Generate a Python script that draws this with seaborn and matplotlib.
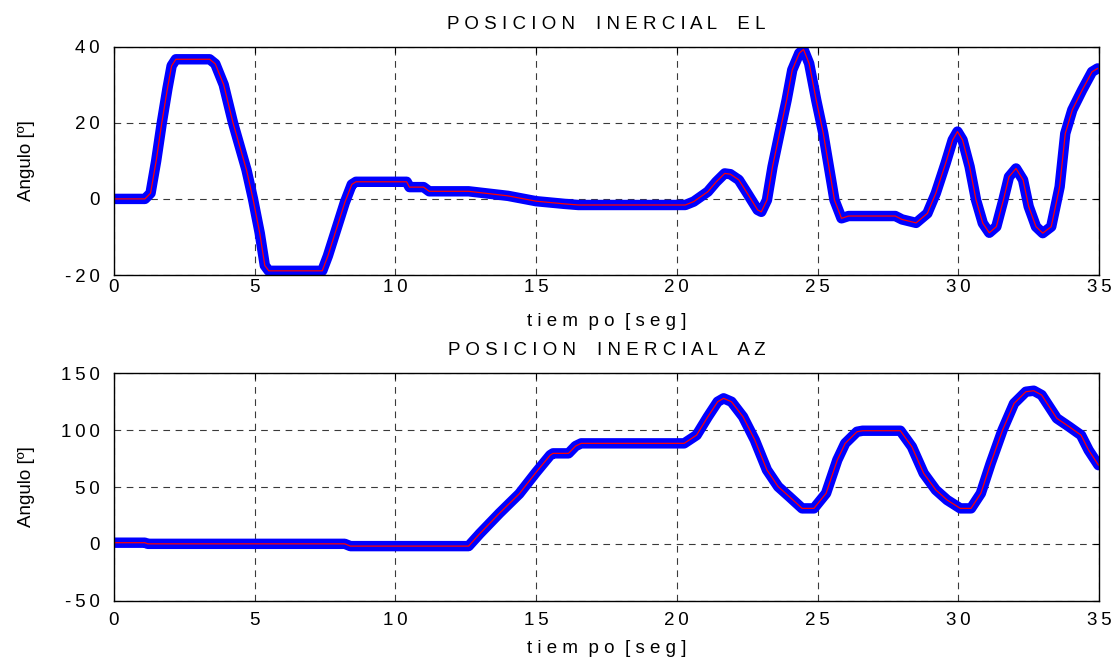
import numpy as np
import pandas as pd
import matplotlib
matplotlib.use("Agg")
import matplotlib.pyplot as plt
import seaborn as sns

# --- Elevation (EL) inertial position, degrees vs seconds ---
t_el = [0.0, 1.1, 1.3, 1.5, 1.7, 1.9, 2.05, 2.2, 3.4, 3.6, 3.9, 4.23, 4.71,
        4.94, 5.18, 5.36, 5.5, 7.4, 7.6, 7.9, 8.2, 8.45, 8.6, 10.4, 10.5,
        11.0, 11.2, 12.6, 14.0, 15.0, 16.0, 16.5, 20.3, 20.6, 21.1, 21.4,
        21.7, 21.9, 22.2, 22.5, 22.87, 23.0, 23.2, 23.4, 23.65, 23.9, 24.1,
        24.35, 24.5, 24.7, 24.95, 25.2, 25.4, 25.6, 25.85, 26.1, 27.76, 28.0,
        28.5, 28.9, 29.2, 29.55, 29.8, 29.97, 30.15, 30.4, 30.63, 30.87, 31.1,
        31.35, 31.6, 31.8, 32.05, 32.3, 32.5, 32.76, 33.0, 33.3, 33.6, 33.8,
        34.05, 34.4, 34.75, 34.95]
el_deg = [0.0, 0.0, 1.5, 10.0, 20.0, 29.0, 35.0, 36.7, 36.7, 35.5, 30.0, 20.0,
          7.6, 0.0, -9.0, -17.5, -18.9, -18.9, -15.0, -8.0, -1.0, 3.8, 4.5,
          4.5, 3.1, 3.1, 2.0, 2.0, 0.8, -0.6, -1.3, -1.6, -1.6, -0.7, 1.9,
          4.5, 6.7, 6.5, 5.0, 1.5, -2.9, -3.4, -0.3, 8.5, 17.3, 26.0, 33.9,
          38.3, 39.3, 35.6, 26.0, 17.3, 8.5, -0.3, -5.1, -4.5, -4.5, -5.4,
          -6.3, -3.8, 1.5, 9.4, 15.5, 17.7, 15.5, 8.5, -0.3, -6.4, -8.9, -7.3,
          -0.3, 5.8, 8.0, 5.0, -2.0, -7.3, -9.0, -7.3, 3.2, 17.2, 23.4, 28.6,
          33.4, 34.3]

# --- Azimuth (AZ) inertial position, degrees vs seconds ---
t_az = [0.0, 1.1, 1.2, 8.2, 8.4, 12.6, 13.0, 13.7, 14.4, 15.0, 15.5, 15.6,
        16.15, 16.4, 16.6, 20.26, 20.7, 21.1, 21.45, 21.66, 21.94, 22.35,
        22.77, 23.2, 23.6, 24.0, 24.45, 24.87, 25.3, 25.7, 25.98, 26.4, 26.6,
        27.94, 28.35, 28.77, 29.2, 29.6, 30.07, 30.45, 30.8, 31.15, 31.57,
        31.98, 32.4, 32.68, 32.96, 33.5, 33.94, 34.36, 34.63, 34.98]
az_deg = [1.0, 1.0, 0.0, 0.0, -2.0, -2.0, 9.0, 27.0, 44.0, 63.0, 78.0, 79.6,
          79.6, 86.0, 88.4, 88.4, 95.6, 111.8, 125.0, 128.0, 125.0, 111.8,
          91.3, 65.0, 50.3, 41.4, 31.2, 31.2, 44.4, 73.7, 88.4, 98.6, 99.5,
          99.5, 85.4, 62.0, 47.4, 38.6, 31.2, 31.2, 44.4, 70.8, 100.0, 123.5,
          133.8, 134.7, 130.9, 110.4, 103.0, 95.6, 82.4, 69.2]

x_ticks = [0, 5, 10, 15, 20, 25, 30, 35]
el_ticks = [-20, 0, 20, 40]
az_ticks = [-50, 0, 50, 100, 150]

titles = ["POSICION INERCIAL EL", "POSICION INERCIAL AZ"]
x_label = "tiem po [seg]"
y_label = "Angulo [º]"

THIN = "\u2009"
FS = 13.5


def tracked(text, gap=" ", word_gap="    "):
    """Letter-spaced rendering of a caption."""
    return word_gap.join(gap.join(w) for w in text.split(" "))


def tick_text(v):
    return THIN.join(str(v))


sns.set_theme(style="white")
plt.rcParams["font.family"] = ["Liberation Sans", "DejaVu Sans"]
plt.rcParams["font.size"] = FS

fig = plt.figure(figsize=(11.15, 6.59), dpi=100)
ax_el = fig.add_axes([0.1022, 0.5827, 0.8835, 0.3464])
ax_az = fig.add_axes([0.1022, 0.0885, 0.8835, 0.3450])

df_el = pd.DataFrame({"t": t_el, "ang": el_deg})
df_az = pd.DataFrame({"t": t_az, "ang": az_deg})

panels = [
    (ax_el, df_el, el_ticks, (-20, 40), titles[0], 3, 12),
    (ax_az, df_az, az_ticks, (-50, 150), titles[1], 8, 8),
]

for ax, df, yt, ylim, title, xpad, lpad in panels:
    # thick blue trace with a thin red centre line
    sns.lineplot(data=df, x="t", y="ang", ax=ax, color="#0000ff",
                 linewidth=7.5, solid_capstyle="round",
                 solid_joinstyle="round", sort=False, estimator=None)
    sns.lineplot(data=df, x="t", y="ang", ax=ax, color="#ff0000",
                 linewidth=0.9, sort=False, estimator=None)

    ax.set_xlim(0, 35)
    ax.set_ylim(*ylim)
    ax.set_xticks(x_ticks)
    ax.set_xticklabels([tick_text(v) for v in x_ticks])
    ax.set_yticks(yt)
    ax.set_yticklabels([tick_text(v) for v in yt])

    ax.grid(True, color="#3a3a3a", linestyle=(0, (6, 5)), linewidth=0.8)
    ax.set_axisbelow(True)
    for s in ax.spines.values():
        s.set_color("black")
        s.set_linewidth(1.0)
    ax.tick_params(direction="in", length=4, width=0.8, color="black",
                   top=True, right=True, labelsize=FS,
                   labelcolor="black")
    ax.tick_params(axis="x", pad=xpad)
    ax.tick_params(axis="y", pad=10)

    ax.set_title(tracked(title), fontsize=13.5, pad=13, color="black")
    ax.set_xlabel(tracked(x_label, gap=" ", word_gap="  "),
                  fontsize=FS, labelpad=lpad, color="black")
    ax.set_ylabel(y_label, fontsize=FS, color="black", labelpad=10)

ax_el.yaxis.set_label_coords(-0.080, 0.5)
ax_az.yaxis.set_label_coords(-0.080, 0.5)

fig.savefig("out.png", dpi=100, facecolor="white")
